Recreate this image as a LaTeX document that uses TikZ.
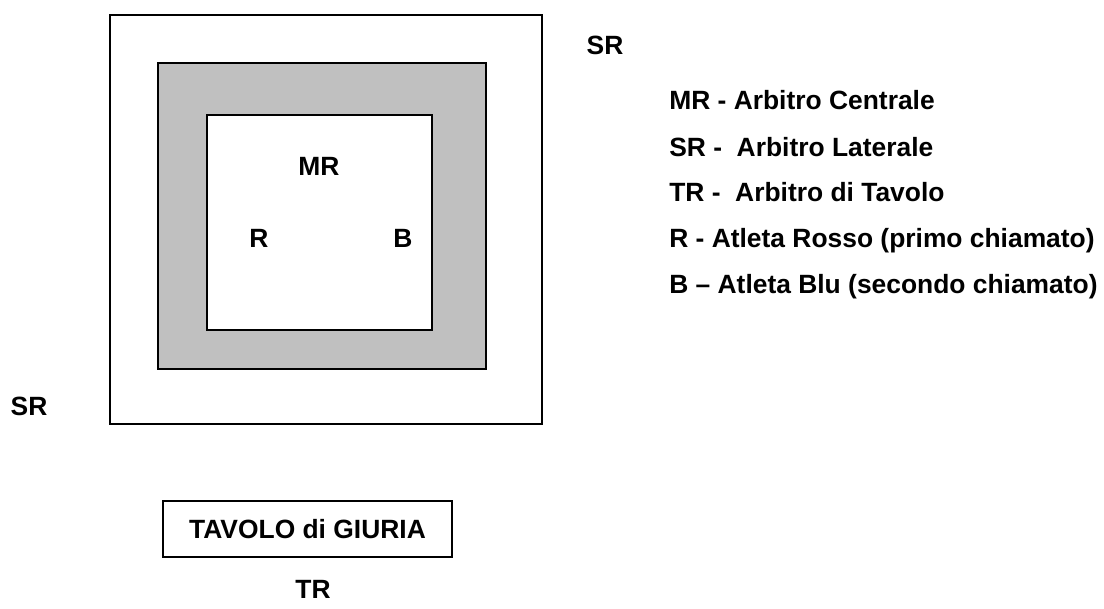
\documentclass[tikz,border=0pt]{standalone}
\usepackage{fontspec}
\setmainfont{Liberation Sans}
\begin{document}
\begin{tikzpicture}[x=0.75pt,y=-0.75pt,
  lbl/.style={font=\bfseries\fontsize{19.8}{23}\selectfont, inner sep=0pt},
  boxline/.style={draw=black, line width=1.4pt},
  legend/.style={lbl, anchor=base west}]
\useasboundingbox (0,0) rectangle (1104,608);
% field
\draw[boxline] (110,15) rectangle (542,424);
\draw[boxline, fill={rgb,255:red,192;green,192;blue,192}] (158,63) rectangle (486,369);
\draw[boxline, fill=white] (207,115) rectangle (432,330);
\node[lbl] (mr) at (319,166) {MR};
\node[lbl] (r) at (259,238) {R};
\node[lbl] (b) at (403,238) {B};
\node[lbl] (srl) at (29,406) {SR};
\node[lbl] (srt) at (605,45) {SR};
% table
\node[lbl, boxline, minimum width=216.75pt, minimum height=42pt] (table) at (307.5,529) {TAVOLO di GIURIA};
\node[lbl] (tr) at (313,589) {TR};
% legend
\node[legend] (l1) at (669,109) {MR - Arbitro Centrale};
\node[legend] (l2) at (669,156) {SR -\ \ Arbitro Laterale};
\node[legend] (l3) at (669,201) {TR -\ \ Arbitro di Tavolo};
\node[legend] (l4) at (669,247) {R - Atleta Rosso (primo chiamato)};
\node[legend] (l5) at (669,293) {B – Atleta Blu (secondo chiamato)};
\end{tikzpicture}
\end{document}
